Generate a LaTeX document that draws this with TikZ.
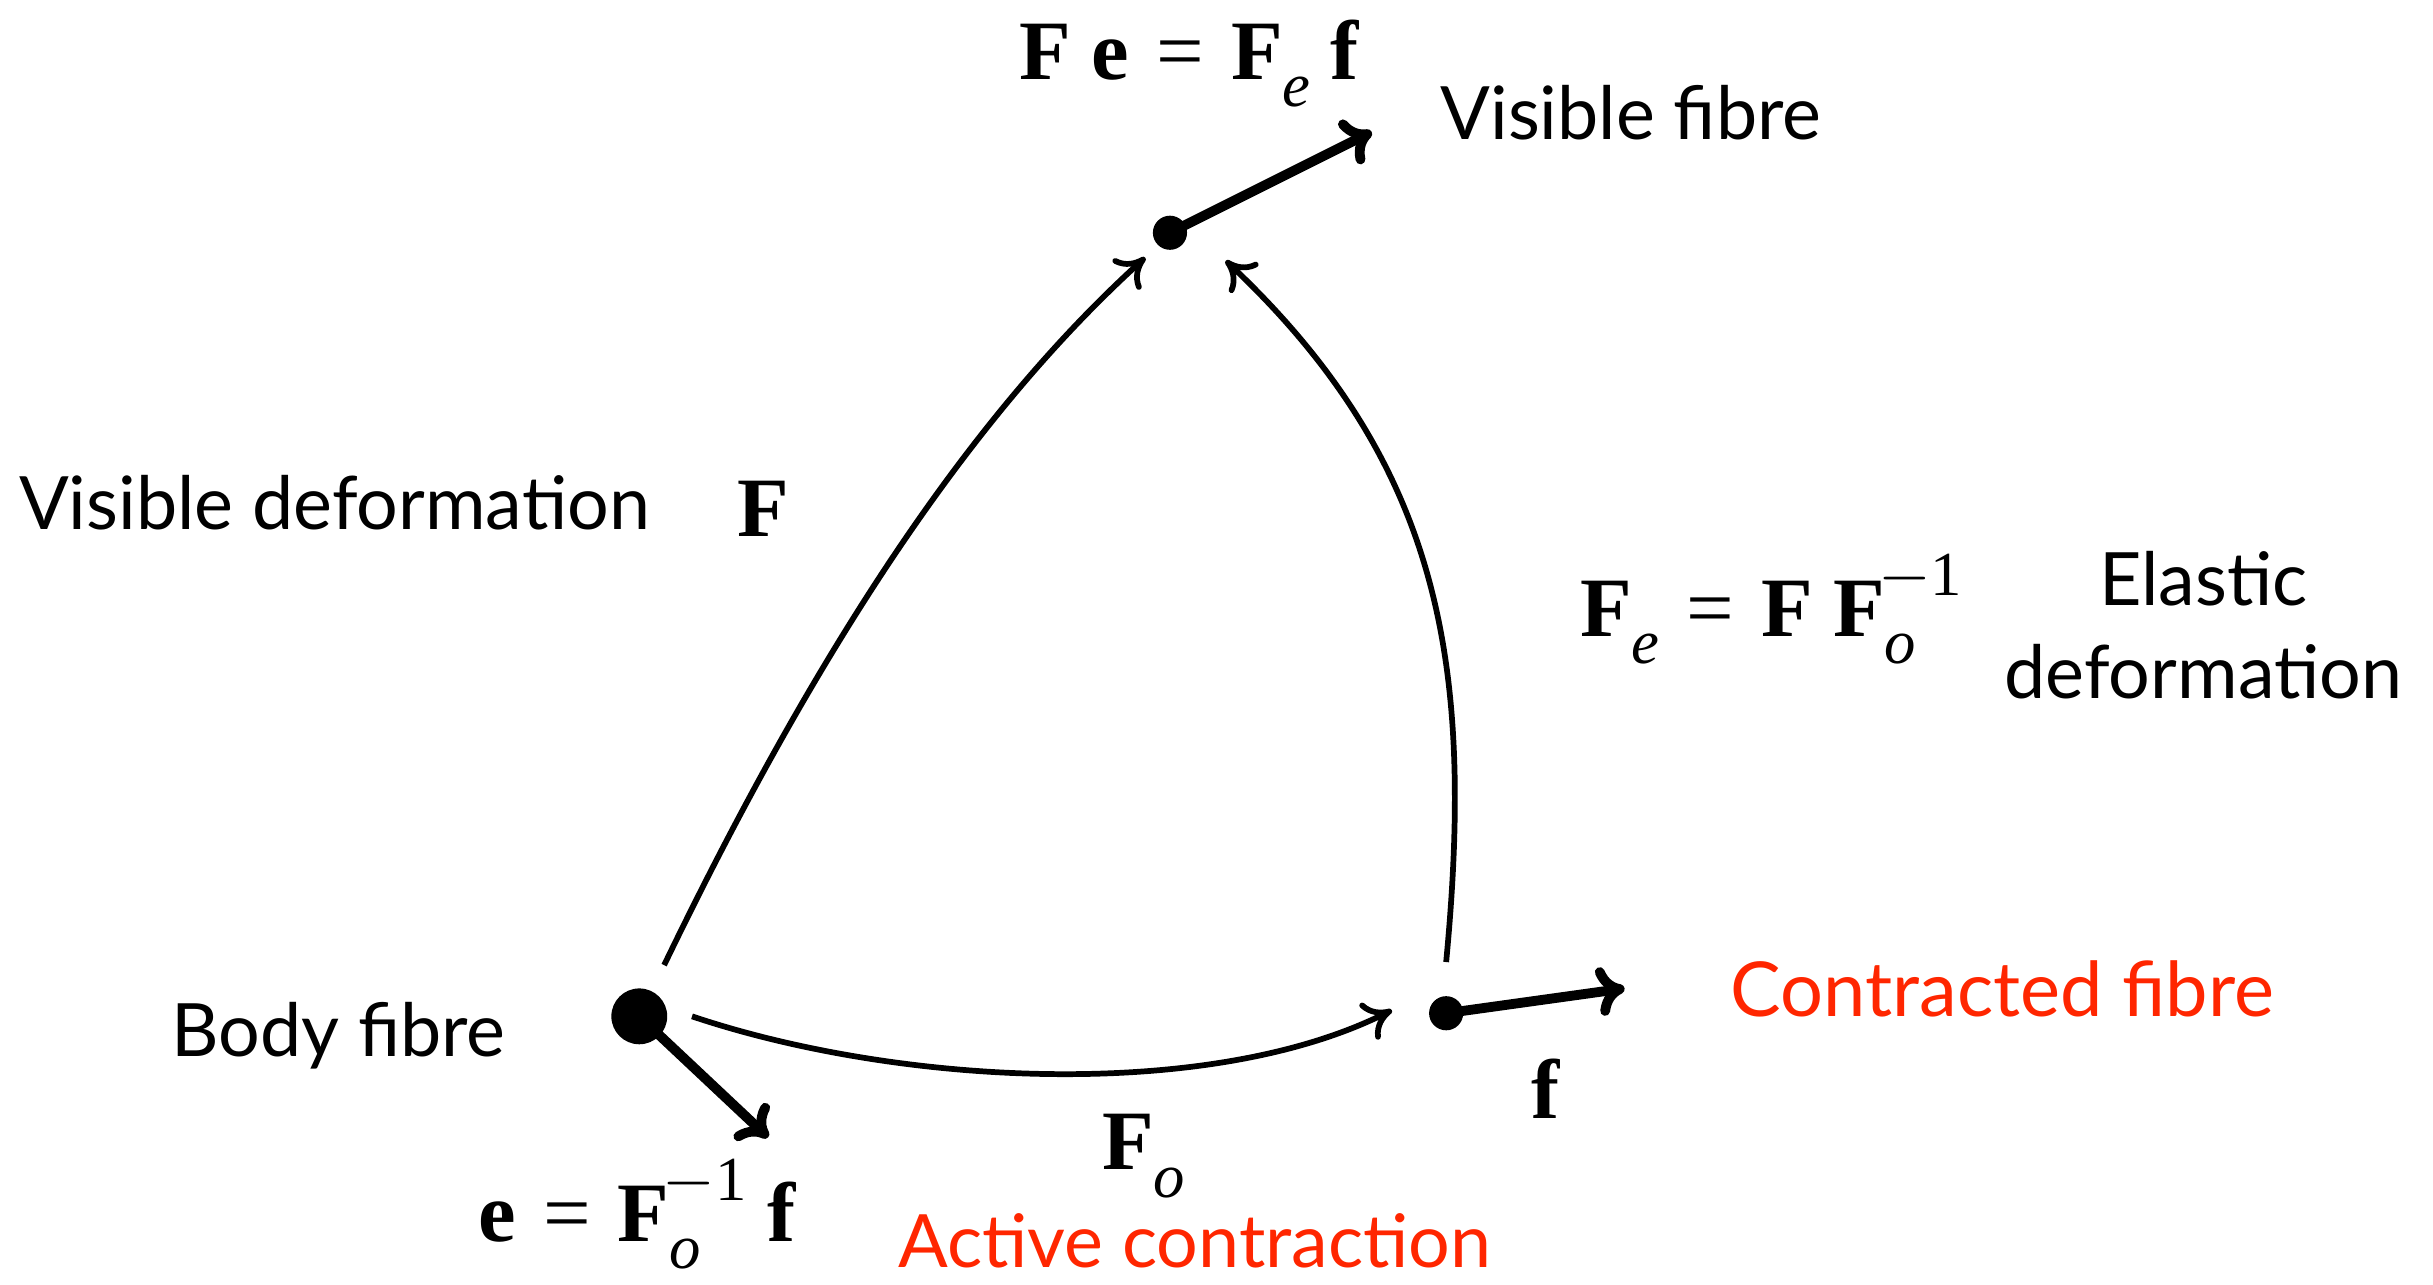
\documentclass[tikz,border=0pt]{standalone}
\usepackage{fontspec}
\setmainfont{Lato}
\newfontfamily\tms{Liberation Serif}
\usetikzlibrary{arrows.meta}
\definecolor{redtxt}{RGB}{255,38,0}
\newcommand{\bv}[1]{{\tms\bfseries #1}}
\newcommand{\sbi}[1]{\raisebox{-0.32em}{\fontsize{23}{23}\selectfont\tms\itshape #1}}
\newcommand{\supi}[1]{\raisebox{0.48em}{\fontsize{23}{23}\selectfont\tms #1}}
\newcommand{\eqs}{{\tms\hspace{0.32em}=\hspace{0.32em}}}
\newcommand{\gp}{\hspace{0.24em}}
\begin{document}
\begin{tikzpicture}[x=0.02cm,y=-0.02cm,
  lbl/.style={inner sep=0pt,font=\fontsize{27}{33}\selectfont},
  mth/.style={inner sep=0pt,font=\fontsize{31}{36}\selectfont\tms},
  dot/.style={circle,fill=black,inner sep=0pt,minimum size=22*0.02cm},
  bigdot/.style={circle,fill=black,inner sep=0pt,minimum size=36*0.02cm},
  thin/.style={line width=2.1pt,-{Computer Modern Rightarrow[length=10pt,width=15pt]}},
  thick/.style={line width=3.6pt,-{Computer Modern Rightarrow[length=10pt,width=18pt]}}]
\useasboundingbox (0,0) rectangle (1568,828);
% dots
\node[bigdot] (body) at (412,655) {};
\node[dot] (con) at (932,653) {};
\node[dot] (vis) at (754,150) {};
% fibre arrow tips
\coordinate (visT) at (884,85);
\coordinate (conT) at (1047,637);
\coordinate (bodyT) at (495,733);
\draw[thick] (vis.center) -- (visT);
\draw[thick] (con.center) -- (conT);
\draw[thick] (body.center) -- (bodyT);
% curve anchors
\coordinate (fS) at (428,622);
\coordinate (fE) at (738,166);
\coordinate (eS) at (932,620);
\coordinate (eE) at (790,168);
\coordinate (oS) at (446,655);
\coordinate (oE) at (897,651);
\draw[thin] (fS) .. controls (540,390) and (640,255) .. (fE);
\draw[thin] (eS) .. controls (950,430) and (930,300) .. (eE);
\draw[thin] (oS) .. controls (580,700) and (780,710) .. (oE);
% labels
\node[mth,anchor=base west] (eqtop) at (657,51) {\bv{F}\gp\bv{e}\eqs\bv{F}\sbi{e}\gp\bv{f}};
\node[lbl,anchor=base west] (visfib) at (928,90) {Visible fibre};
\node[lbl,anchor=base west] (visdef) at (12,341) {Visible deformation};
\node[mth,anchor=base] (Flbl) at (492,346) {\bv{F}};
\node[mth,anchor=base west] (Fe) at (1018,410) {\bv{F}\sbi{e}\eqs\bv{F}\gp\bv{F}\sbi{o}\hspace{-0.45em}\supi{$-$1}};
\node[lbl,anchor=base] (el) at (1420,390) {Elastic};
\node[lbl,anchor=base] (dfm) at (1420,450) {deformation};
\node[lbl,anchor=base west,text=redtxt,font=\fontsize{27.8}{33}\selectfont] (cf) at (1115,655) {Contracted fibre};
\node[mth,anchor=base] (flbl) at (996,721) {\bv{f}};
\node[lbl,anchor=base west] (bf) at (110,681) {Body fibre};
\node[mth,anchor=base west] (einv) at (308,800) {\bv{e}\eqs\bv{F}\sbi{o}\hspace{-0.45em}\supi{$-$1}\gp\bv{f}};
\node[mth,anchor=base] (Fo) at (737,754) {\bv{F}\sbi{o}};
\node[lbl,anchor=base,text=redtxt] (ac) at (770,817) {Active contraction};
\end{tikzpicture}
\end{document}
